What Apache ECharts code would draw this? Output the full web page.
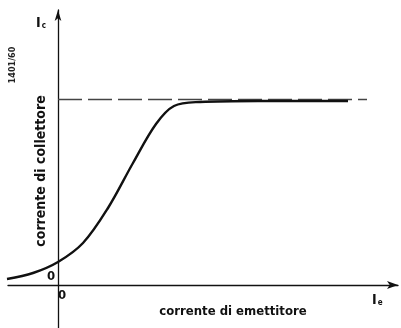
<!DOCTYPE html>
<html><head><meta charset="utf-8">
<script src="https://cdn.jsdelivr.net/npm/echarts@6/dist/echarts.min.js"></script>
<style>html,body{margin:0;padding:0;background:#fff}#c{width:401px;height:328px}</style>
</head><body><div id="c"></div>
<script>
// emitter current (x) and collector current (y), arbitrary units
const curveX = [-5.1, -2.5, 0, 2.5, 5.0, 7.5, 9.8, 11.6, 14.2, 20, 29];
const curveY = [0.6, 1.2, 2.3, 4.2, 7.7, 12.2, 16.1, 17.9, 18.3, 18.4, 18.4];
const saturationX = [0, 30.9];
const saturationY = [18.55, 18.55];
const xLabel = 'corrente di emettitore';
const yLabel = 'corrente di collettore';
const figId = '1401/60';

const chart = echarts.init(document.getElementById('c'), null, {renderer: 'canvas'});
const font = '"DejaVu Sans Condensed", "DejaVu Sans", sans-serif';
chart.setOption({
  animation: false,
  backgroundColor: '#fff',
  grid: {left: 8, right: 3, top: 10, bottom: 0},
  xAxis: {type: 'value', min: -5, max: 34,
    axisLine: {show: true, onZero: true, symbol: ['none', 'arrow'], symbolSize: [6, 11], lineStyle: {color: '#111', width: 1.3}},
    axisTick: {show: false}, axisLabel: {show: false}, splitLine: {show: false}},
  yAxis: {type: 'value', min: -4.3, max: 27.5,
    axisLine: {show: true, onZero: true, symbol: ['none', 'arrow'], symbolSize: [5, 11], lineStyle: {color: '#111', width: 1.3}},
    axisTick: {show: false}, axisLabel: {show: false}, splitLine: {show: false}},
  series: [
    {type: 'line', data: saturationX.map((x, i) => [x, saturationY[i]]), symbol: 'none',
      lineStyle: {color: '#444', width: 1.4, type: [24, 6]}, z: 1},
    {type: 'line', data: curveX.map((x, i) => [x, curveY[i]]), smooth: 0.35, symbol: 'none',
      lineStyle: {color: '#111', width: 2.4}, z: 2}
  ],
  graphic: [
    {type: 'text', x: 36, y: 16, style: {text: '{a|I}{b|c}', rich: {a: {fontSize: 14, fontWeight: 'bold', fontFamily: font, fill: '#111'}, b: {fontSize: 8, fontWeight: 'bold', fontFamily: font, fill: '#111', padding: [6, 0, 0, 1]}}}},
    {type: 'text', x: 372, y: 293, style: {text: '{a|I}{b|e}', rich: {a: {fontSize: 14, fontWeight: 'bold', fontFamily: font, fill: '#111'}, b: {fontSize: 8, fontWeight: 'bold', fontFamily: font, fill: '#111', padding: [6, 0, 0, 1]}}}},
    {type: 'text', x: 51, y: 277, style: {text: '0', fontSize: 13, fontWeight: 'bold', fontFamily: font, fill: '#111', align: 'center', verticalAlign: 'middle'}},
    {type: 'text', x: 62, y: 296, style: {text: '0', fontSize: 13, fontWeight: 'bold', fontFamily: font, fill: '#111', align: 'center', verticalAlign: 'middle'}},
    {type: 'text', x: 233, y: 312, style: {text: xLabel, fontSize: 13, fontWeight: 'bold', fontFamily: font, fill: '#111', align: 'center', verticalAlign: 'middle'}},
    {type: 'text', x: 41, y: 171, rotation: Math.PI / 2, style: {text: yLabel, fontSize: 14, fontWeight: 'bold', fontFamily: font, fill: '#111', align: 'center', verticalAlign: 'middle'}},
    {type: 'text', x: 13, y: 65, rotation: Math.PI / 2, style: {text: figId, fontSize: 9, fontWeight: 'bold', fontFamily: font, fill: '#222', align: 'center', verticalAlign: 'middle'}}
  ]
});
</script></body></html>
